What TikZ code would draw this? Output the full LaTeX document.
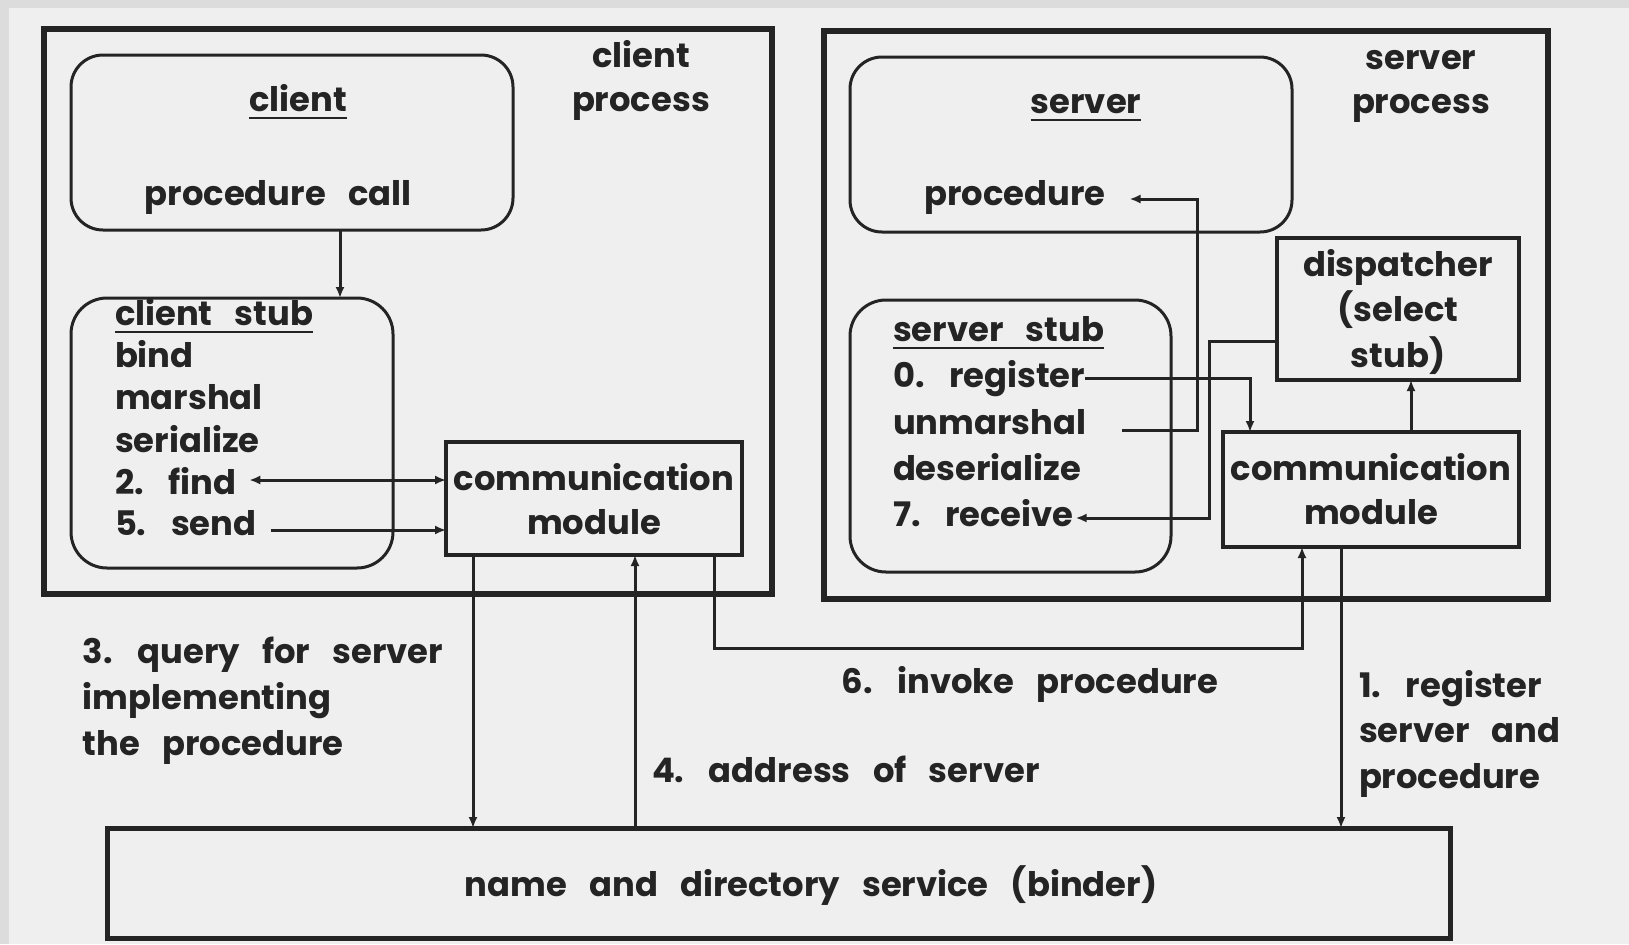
\documentclass[tikz,border=0pt]{standalone}
\usepackage{fontspec}
\setmainfont{Poppins}[WordSpace=3.1]
\usetikzlibrary{arrows.meta}
\definecolor{paper}{HTML}{EFEFEF}
\definecolor{band}{HTML}{DCDCDC}
\definecolor{ink}{HTML}{242424}
% underline with a heavier rule
\newcommand{\ulbold}[1]{\setbox0\hbox{#1}\rlap{\rule[-4pt]{\wd0}{1.2pt}}\box0}
\begin{document}
\begin{tikzpicture}[x=0.5pt,y=-0.5pt,
  txt/.style={inner sep=0pt, outer sep=0pt, text=ink,
    font=\fontsize{16.9}{21}\selectfont\bfseries},
  lbl/.style={txt, anchor=base},
  lblw/.style={txt, anchor=base west},
  procbox/.style={draw=ink, line width=3pt, inner sep=0pt, outer sep=0pt},
  softbox/.style={draw=ink, line width=1.5pt, rounded corners=16pt, inner sep=0pt, outer sep=0pt},
  modbox/.style={draw=ink, line width=1.7pt, inner sep=0pt, outer sep=0pt},
  conn/.style={draw=ink, line width=1.5pt},
  arr/.style={conn, -{Latex[length=5.5pt,width=4.6pt]}},
  darr/.style={conn, {Latex[length=5.5pt,width=4.6pt]}-{Latex[length=5.5pt,width=4.6pt]}},
]
% page
\fill[band] (0,0) rectangle (1629,944);
\fill[paper] (9,8) rectangle (1629,944);

% ---- client side ----
\node[procbox, minimum width=364pt, minimum height=282.5pt] (cproc) at (408,311.5) {};
\node[softbox, minimum width=221pt, minimum height=87.5pt] (cbox) at (292,142.5) {};
\node[softbox, rounded corners=18pt, minimum width=161pt, minimum height=135pt] (cstub) at (232,433) {};
\node[modbox, minimum width=148pt, minimum height=56.5pt] (ccomm) at (594,498.5) {};

\node[lbl] (clientT) at (298,111) {\ulbold{client}};
\node[lbl] (cprocA) at (641,67) {client};
\node[lbl] (cprocB) at (641,111) {process};
\node[lbl] (callT) at (278,205) {procedure call};

\node[lblw] (cstubT) at (115,325) {\ulbold{client stub}};
\node[lblw] (bind) at (115,367) {bind};
\node[lblw] (marsh) at (115,409) {marshal};
\node[lblw] (seri) at (115,452) {serialize};
\node[lblw] (find) at (115,494) {2. find};
\node[lblw] (send) at (115,535) {5. send};

\node[lbl] (ccommA) at (594,490) {communication};
\node[lbl] (ccommB) at (594,534) {module};

% ---- server side ----
\node[procbox, minimum width=362pt, minimum height=284pt] (sproc) at (1186,315) {};
\node[softbox, minimum width=221pt, minimum height=87.5pt] (sbox) at (1071,144.5) {};
\node[softbox, rounded corners=18pt, minimum width=160.5pt, minimum height=136pt] (sstub) at (1010.5,436) {};
\node[modbox, minimum width=121pt, minimum height=71pt] (disp) at (1398,309) {};
\node[modbox, minimum width=148pt, minimum height=57.5pt] (scomm) at (1371,489.5) {};

\node[lbl] (serverT) at (1086,113) {\ulbold{server}};
\node[lbl] (sprocA) at (1421,69) {server};
\node[lbl] (sprocB) at (1421,113) {process};
\node[lbl] (procT) at (1015,205) {procedure};

\node[lblw] (sstubT) at (893,341) {\ulbold{server stub}};
\node[lblw] (reg) at (893,387) {0. register};
\node[lblw] (unm) at (893,434) {unmarshal};
\node[lblw] (deser) at (893,480) {deserialize};
\node[lblw] (rec) at (893,526) {7. receive};

\node[lbl] (dispA) at (1398,276) {dispatcher};
\node[lbl] (dispB) at (1398,321) {(select};
\node[lbl] (dispC) at (1398,367) {stub)};

\node[lbl] (scommA) at (1371,480) {communication};
\node[lbl] (scommB) at (1371,524) {module};

% ---- binder ----
\node[procbox, line width=2.5pt, minimum width=671.5pt, minimum height=55pt] (binder) at (778.5,883) {};
\node[lbl] (binderT) at (811,896) {name and directory service (binder)};

% ---- message labels ----
\node[lblw] (qA) at (83,663) {3. query for server};
\node[lblw] (qB) at (83,709) {implementing};
\node[lblw] (qC) at (83,755) {the procedure};
\node[lbl] (invT) at (1030,693) {6. invoke procedure};
\node[lblw] (addrT) at (652,782) {4. address of server};
\node[lblw] (rA) at (1359,697) {1. register};
\node[lblw] (rB) at (1359,742) {server and};
\node[lblw] (rC) at (1359,788) {procedure};

% ---- connectors ----
\coordinate (xcall) at (340,0);
\draw[arr] (cbox.south -| xcall) -- (cstub.north -| xcall);

\coordinate (findA) at ([xshift=6.5pt,yshift=7pt]find.base east);
\draw[darr] (findA) -- (findA -| ccomm.west);
\coordinate (sendA) at ([xshift=7pt,yshift=2.5pt]send.base east);
\draw[arr] (sendA) -- (sendA -| ccomm.west);

\coordinate (xq) at (473,0);
\coordinate (xa) at (635,0);
\coordinate (xi) at (714,0);
\coordinate (xr) at (1341,0);
\coordinate (invk) at (1302,648);
\draw[arr] (ccomm.south -| xq) -- (binder.north -| xq);
\draw[arr] (binder.north -| xa) -- (ccomm.south -| xa);
\draw[arr] (ccomm.south -| xi) |- (invk) -- (scomm.south -| invk);
\draw[arr] (scomm.south -| xr) -- (binder.north -| xr);

\coordinate (xreg) at (1250,0);
\coordinate (regA) at ([yshift=4.5pt]reg.base east);
\draw[arr] (regA) -| (scomm.north -| xreg);

\coordinate (xup) at (1197,0);
\coordinate (unmA) at ([xshift=18pt,yshift=2pt]unm.base east);
\coordinate (procA) at ([xshift=12pt,yshift=3pt]procT.base east);
\draw[arr] (unmA) -| (xup |- procA) -- (procA);

\coordinate (xdn) at (1209,0);
\coordinate (ydisp) at (0,341);
\coordinate (recA) at ([xshift=1pt,yshift=4pt]rec.base east);
\draw[arr] (disp.west |- ydisp) -| (xdn |- recA) -- (recA);

\coordinate (xd) at (1411,0);
\draw[arr] (scomm.north -| xd) -- (disp.south -| xd);
\end{tikzpicture}
\end{document}
